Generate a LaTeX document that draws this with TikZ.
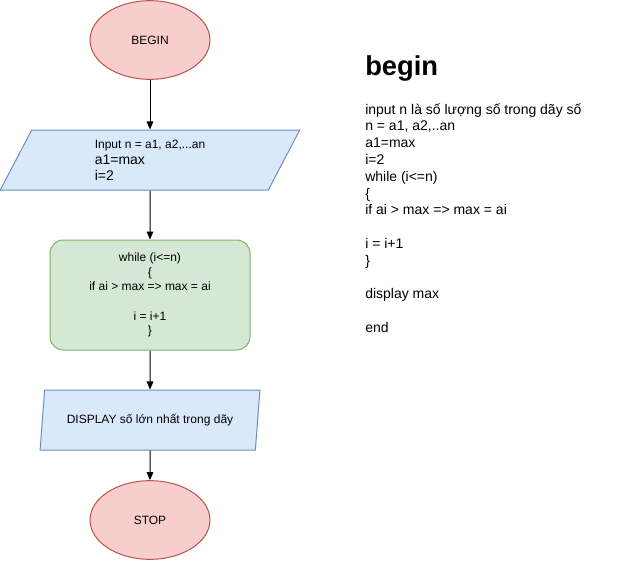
\documentclass[tikz,border=0pt]{standalone}
\usepackage{fontspec}
\setmainfont{Liberation Sans}
\usepackage{xcolor}
\usetikzlibrary{
  shapes.geometric,
  arrows.meta,
  positioning
}
\definecolor{TermRed}{RGB}{248, 206, 204}
\definecolor{TermRedLine}{RGB}{184, 84, 80}
\definecolor{IoBlue}{RGB}{218, 232, 252}
\definecolor{IoBlueLine}{RGB}{108, 142, 191}
\definecolor{LoopGreen}{RGB}{213, 232, 212}
\definecolor{LoopGreenLine}{RGB}{130, 179, 102}
\tikzset{
    terminal/.style={ellipse, draw=TermRedLine, fill=TermRed, line width=0.75pt,
        minimum width=90pt, minimum height=59pt, font=\fontsize{9}{10.8}\selectfont},
    iobox/.style={trapezium, trapezium stretches=true, draw=IoBlueLine, fill=IoBlue,
        line width=0.75pt, minimum height=45pt, inner sep=0pt},
    loopbox/.style={rectangle, rounded corners=10pt, draw=LoopGreenLine, fill=LoopGreen,
        line width=0.75pt, minimum width=150pt, minimum height=82.5pt, align=center,
        font=\fontsize{9}{10.95}\selectfont},
    flow/.style={-{Triangle[length=6pt, width=5pt]}, line width=0.75pt}
}

\begin{document}
\begin{tikzpicture}[x=0.75pt, y=-0.75pt]
    \useasboundingbox (0,0) rectangle (640,561);
    % flowchart
    \node[terminal] (begin) at (150,40) {BEGIN};
    \node[iobox, trapezium left angle=70, trapezium right angle=110, minimum width=225pt,
        align=left, font=\fontsize{10.5}{12}\selectfont] (input) at (150,160)
        {{\fontsize{9}{12}\selectfont Input n = a1, a2,...an}\\ a1=max\\ i=2};
    \node[loopbox] (loop) at (150,295)
        {while (i<=n)\\ \{\\ if ai > max => max = ai\\[10.95pt] i = i+1\\ \}};
    \node[iobox, trapezium left angle=73, trapezium right angle=107, minimum width=165pt,
        font=\fontsize{9}{10.8}\selectfont] (display) at (150,420)
        {DISPLAY số lớn nhất trong dãy};
    \node[terminal] (stop) at (150,520) {STOP};

    \draw[flow] (begin) -- (input);
    \draw[flow] (input) -- (loop);
    \draw[flow] (loop) -- (display);
    \draw[flow] (display) -- (stop);

    % pseudocode
    \node[anchor=base west, inner sep=0pt, font=\fontsize{20.5}{24}\selectfont\bfseries]
        (title) at (365,75) {begin};
    \node[anchor=north west, inner sep=0pt, align=left, font=\fontsize{10.5}{12.6}\selectfont]
        (code) at (365,103)
        {input n là số lượng số trong dãy số\\
         n = a1, a2,..an\\
         a1=max\\
         i=2\\
         while (i<=n)\\
         \{\\
         if ai > max => max = ai\\[12.6pt]
         i = i+1\\
         \}\\[12.6pt]
         display max\\[12.6pt]
         end};
\end{tikzpicture}
\end{document}
